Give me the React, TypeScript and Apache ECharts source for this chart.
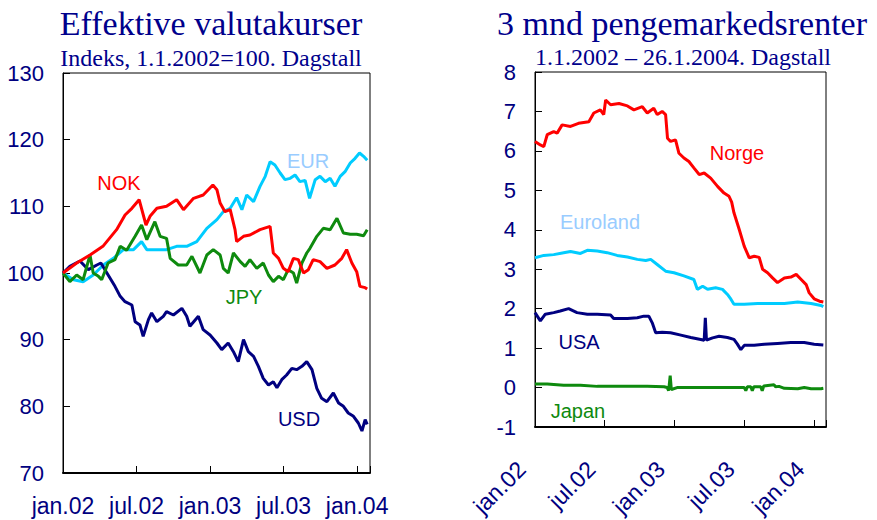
import React, { useEffect, useRef } from "react";
import * as echarts from "echarts";

// ---------- data (x = days since 1.1.2002) ----------
const AXIS_END_DAY = 762; // about 2.2.2004, right edge of both plots
const HALF_YEAR = 182.5;
const tickLabels = ["jan.02", "jul.02", "jan.03", "jul.03", "jan.04"];

// Left panel: Effektive valutakurser (index, 1.1.2002 = 100)
const nokDays = [0, 34, 67, 99, 133, 154, 171, 189, 206, 216, 233, 257, 282, 299, 324, 348, 372, 382, 390, 402, 415, 427, 431, 448, 464, 489, 514, 522, 535, 547, 559, 572, 584, 597, 609, 621, 638, 655, 675, 692, 704, 717, 729, 737, 750, 755];
const nokValues = [100, 101.5, 102.7, 104, 106.5, 108.7, 109.7, 111, 107.2, 108.5, 109.7, 110, 111, 109.5, 111.2, 111.7, 113.2, 112.5, 110.5, 109.2, 109.5, 106.5, 104.7, 105.5, 105.7, 106.5, 107, 103, 102.2, 100.7, 100.2, 102.2, 102, 100, 100.5, 102, 101.7, 100.7, 101.2, 102.2, 103.5, 101.5, 100.2, 98, 97.8, 97.6];

const eurDays = [0, 26, 50, 75, 100, 125, 150, 175, 195, 208, 233, 257, 282, 307, 332, 357, 382, 398, 415, 431, 444, 456, 473, 489, 502, 514, 526, 539, 551, 564, 576, 588, 601, 612, 626, 638, 651, 663, 675, 688, 700, 713, 725, 736, 746, 755];
const eurValues = [100, 99, 98.7, 99.7, 101.2, 102.2, 103.5, 103.5, 104.7, 103.5, 103.5, 103.5, 104, 104, 104.7, 106.7, 108, 109.2, 109.7, 111.3, 109.5, 111.7, 110.7, 113, 114.5, 116.7, 116.2, 115, 114, 114.2, 114.7, 113.7, 113.9, 111.2, 114, 114.5, 113.7, 114.2, 113, 114.5, 115.2, 116.5, 117.2, 118, 117.5, 116.9];

const jpyDays = [0, 17, 34, 50, 67, 75, 88, 96, 112, 129, 142, 158, 179, 195, 208, 228, 241, 257, 266, 286, 307, 320, 340, 357, 373, 390, 398, 410, 423, 440, 452, 464, 481, 497, 510, 522, 535, 547, 559, 572, 580, 593, 605, 613, 630, 646, 663, 680, 696, 713, 729, 746, 755];
const jpyValues = [100, 98.7, 99.7, 99, 102.7, 100, 99.5, 99, 101.5, 102, 104, 103.4, 105.5, 107.2, 105, 107.7, 105.5, 105.2, 102.2, 101.2, 101.2, 102.5, 100, 102.7, 103.5, 102.7, 100.7, 100, 103, 101.7, 101, 102, 100.7, 101.5, 99.7, 98.7, 99.5, 99, 100.5, 100, 98.5, 101.5, 103, 103.7, 105.5, 106.7, 106.5, 108.2, 106, 105.8, 105.8, 105.6, 106.5];

const usdDays = [0, 17, 42, 63, 84, 94, 109, 129, 142, 154, 171, 179, 191, 199, 212, 220, 233, 249, 257, 274, 295, 307, 315, 336, 348, 365, 382, 394, 410, 423, 435, 448, 460, 473, 485, 497, 510, 522, 531, 543, 555, 568, 580, 593, 605, 618, 630, 642, 655, 671, 684, 696, 708, 721, 733, 742, 750, 755];
const usdValues = [100, 101, 101.8, 100.5, 101.2, 101.5, 100, 98, 96.5, 95.7, 95.2, 92.7, 92.2, 90.5, 93, 94, 92.7, 93.5, 94.2, 93.7, 94.7, 93.5, 92, 93.5, 91.5, 90.7, 89.5, 88.5, 89.5, 88.2, 86.7, 90, 88.2, 87.5, 86, 84.2, 83.2, 83.7, 82.8, 84, 84.7, 85.7, 85.5, 86, 86.7, 85.5, 82.7, 81.2, 80.7, 82, 80.5, 80, 79, 78.5, 77.5, 76.3, 78, 77.3];

// Right panel: 3 mnd pengemarkedsrenter (percent)
const norgeDays = [0, 14, 23, 32, 49, 58, 71, 93, 114, 141, 154, 171, 180, 185, 198, 220, 242, 259, 281, 294, 311, 320, 333, 342, 347, 355, 368, 377, 390, 403, 416, 430, 443, 460, 478, 495, 508, 515, 521, 535, 548, 561, 574, 587, 596, 609, 622, 635, 653, 670, 684, 697, 710, 718, 731, 745, 755];
const norgeValues = [6.24, 6.15, 6.11, 6.41, 6.49, 6.45, 6.66, 6.62, 6.7, 6.74, 6.96, 7.04, 6.92, 7.29, 7.17, 7.2, 7.14, 7.04, 7.12, 6.96, 7.08, 6.92, 7.0, 6.92, 6.32, 6.24, 6.28, 5.94, 5.82, 5.73, 5.57, 5.4, 5.44, 5.31, 5.1, 4.93, 4.85, 4.7, 4.43, 4.0, 3.58, 3.29, 3.33, 3.3, 3.0, 2.91, 2.78, 2.66, 2.78, 2.8, 2.87, 2.74, 2.61, 2.4, 2.25, 2.19, 2.17];

const euroDays = [0, 23, 49, 75, 93, 119, 137, 163, 189, 215, 242, 268, 290, 303, 320, 342, 364, 390, 416, 425, 439, 452, 473, 491, 504, 513, 521, 548, 583, 618, 653, 688, 723, 749, 755];
const euroValues = [3.29, 3.35, 3.37, 3.42, 3.45, 3.4, 3.48, 3.46, 3.42, 3.35, 3.31, 3.25, 3.22, 3.25, 3.12, 2.95, 2.91, 2.83, 2.74, 2.49, 2.57, 2.49, 2.53, 2.49, 2.36, 2.24, 2.11, 2.11, 2.13, 2.13, 2.13, 2.17, 2.13, 2.08, 2.05];

const usaDays = [0, 14, 27, 49, 66, 88, 110, 137, 163, 198, 206, 242, 268, 285, 298, 307, 316, 333, 355, 382, 408, 434, 443, 446, 449, 465, 482, 504, 521, 530, 539, 548, 574, 600, 635, 670, 705, 731, 755];
const usaValues = [1.9, 1.69, 1.86, 1.9, 1.94, 2.0, 1.9, 1.86, 1.86, 1.84, 1.75, 1.75, 1.77, 1.81, 1.81, 1.64, 1.39, 1.4, 1.39, 1.33, 1.27, 1.22, 1.2, 1.77, 1.2, 1.26, 1.3, 1.27, 1.22, 1.1, 0.96, 1.07, 1.07, 1.1, 1.12, 1.14, 1.14, 1.1, 1.08];

const japanDays = [0, 32, 75, 119, 163, 206, 250, 294, 338, 346, 350, 354, 357, 372, 425, 469, 513, 548, 552, 556, 565, 569, 573, 591, 595, 599, 626, 630, 639, 653, 688, 705, 723, 749, 755];
const japanValues = [0.09, 0.09, 0.06, 0.06, 0.03, 0.03, 0.03, 0.03, 0.02, 0.0, -0.08, 0.3, -0.05, 0.0, 0.0, 0.0, 0.0, 0.0, -0.08, 0.02, 0.02, -0.08, 0.02, 0.02, -0.08, 0.04, 0.07, 0.02, 0.03, -0.02, -0.03, 0.0, -0.03, -0.03, -0.02];

// ---------- styling ----------
const NAVY = "#000080";
const TITLE_NAVY = "#00008c";
const RED = "#ff0000";
const CYAN = "#00ccff";
const LIGHT_BLUE = "#99ccff";
const GREEN = "#0e8a0e";
const SANS = "'Liberation Sans', Arial, sans-serif";
const SERIF = "'Liberation Serif', 'Times New Roman', serif";

function toPoints(days: number[], values: number[]) {
  return days.map((d, i) => [d, values[i]]);
}

function dayLabel(v: number) {
  const idx = Math.round(v / HALF_YEAR);
  if (Math.abs(v - idx * HALF_YEAR) > 0.01 || idx < 0 || idx >= tickLabels.length) return "";
  return tickLabels[idx];
}

function lineSeries(name: string, days: number[], values: number[], color: string, idx: number) {
  return {
    name,
    type: "line",
    xAxisIndex: idx,
    yAxisIndex: idx,
    data: toPoints(days, values),
    showSymbol: false,
    symbol: "none",
    lineStyle: { color, width: 3 },
    itemStyle: { color },
    z: 3,
  };
}

function text(t: string, x: number, y: number, size: number, color: string, family: string) {
  return {
    type: "text",
    x,
    y,
    silent: true,
    style: {
      text: t,
      fill: color,
      font: `${size}px ${family}`,
      textAlign: "center",
      align: "center",
      textVerticalAlign: "middle",
      verticalAlign: "middle",
    },
  };
}

export default function App() {
  const ref = useRef<HTMLDivElement>(null);

  useEffect(() => {
    if (!ref.current) return;
    const chart = echarts.init(ref.current, undefined, { renderer: "svg" });

    const xAxisBase = {
      type: "value",
      min: 0,
      max: AXIS_END_DAY,
      interval: HALF_YEAR,
      axisLine: { show: true, onZero: false, lineStyle: { color: "#000", width: 2 } },
      axisTick: { show: true, inside: true, length: 7, lineStyle: { color: "#000", width: 1 } },
      splitLine: { show: false },
    };
    const yAxisBase = {
      type: "value",
      axisLine: { show: true, onZero: false, lineStyle: { color: "#000", width: 1 } },
      axisTick: { show: true, inside: true, length: 7, lineStyle: { color: "#000", width: 1 } },
      splitLine: { show: false },
      axisLabel: { color: NAVY, fontSize: 22, fontFamily: SANS, margin: 19 },
    };

    chart.setOption({
      animation: false,
      backgroundColor: "#ffffff",
      grid: [
        { left: 63, top: 73, width: 307, height: 400, show: true, borderColor: "#000", borderWidth: 1, containLabel: false },
        { left: 535, top: 72, width: 291, height: 356, show: true, borderColor: "#000", borderWidth: 1, containLabel: false },
      ],
      xAxis: [
        {
          ...xAxisBase,
          gridIndex: 0,
          axisLabel: { color: NAVY, fontSize: 23, fontFamily: SANS, margin: 21, formatter: dayLabel, hideOverlap: false },
        },
        {
          ...xAxisBase,
          gridIndex: 1,
          axisLabel: {
            color: NAVY,
            fontSize: 23,
            fontFamily: SANS,
            margin: 25,
            rotate: 45,
            padding: [0, 19, 0, 0],
            formatter: dayLabel,
            hideOverlap: false,
          },
        },
      ],
      yAxis: [
        { ...yAxisBase, gridIndex: 0, min: 70, max: 130, interval: 10 },
        { ...yAxisBase, gridIndex: 1, min: -1, max: 8, interval: 1 },
      ],
      series: [
        lineSeries("EUR", eurDays, eurValues, CYAN, 0),
        lineSeries("USD", usdDays, usdValues, NAVY, 0),
        lineSeries("JPY", jpyDays, jpyValues, GREEN, 0),
        lineSeries("NOK", nokDays, nokValues, RED, 0),
        lineSeries("Japan", japanDays, japanValues, GREEN, 1),
        lineSeries("USA", usaDays, usaValues, NAVY, 1),
        lineSeries("Euroland", euroDays, euroValues, CYAN, 1),
        lineSeries("Norge", norgeDays, norgeValues, RED, 1),
      ],
      graphic: [
        text("Effektive valutakurser", 211, 23, 34, TITLE_NAVY, SERIF),
        text("Indeks, 1.1.2002=100. Dagstall", 211, 58, 24, TITLE_NAVY, SERIF),
        text("3 mnd pengemarkedsrenter", 682, 23, 34, TITLE_NAVY, SERIF),
        text("1.1.2002 \u2013 26.1.2004. Dagstall", 683, 57, 24, TITLE_NAVY, SERIF),
        text("NOK", 119, 183, 20, RED, SANS),
        text("EUR", 308, 161, 20, LIGHT_BLUE, SANS),
        text("JPY", 244, 297, 20, GREEN, SANS),
        text("USD", 299, 419, 20, NAVY, SANS),
        text("Norge", 737, 153, 20, RED, SANS),
        text("Euroland", 600, 222, 20, LIGHT_BLUE, SANS),
        text("USA", 579, 342, 20, NAVY, SANS),
        text("Japan", 578, 411, 20, GREEN, SANS),
      ],
    });

    return () => chart.dispose();
  }, []);

  return (
    <div
      ref={ref}
      style={{ position: "fixed", left: 0, top: 0, width: 877, height: 520, background: "#fff" }}
    />
  );
}
